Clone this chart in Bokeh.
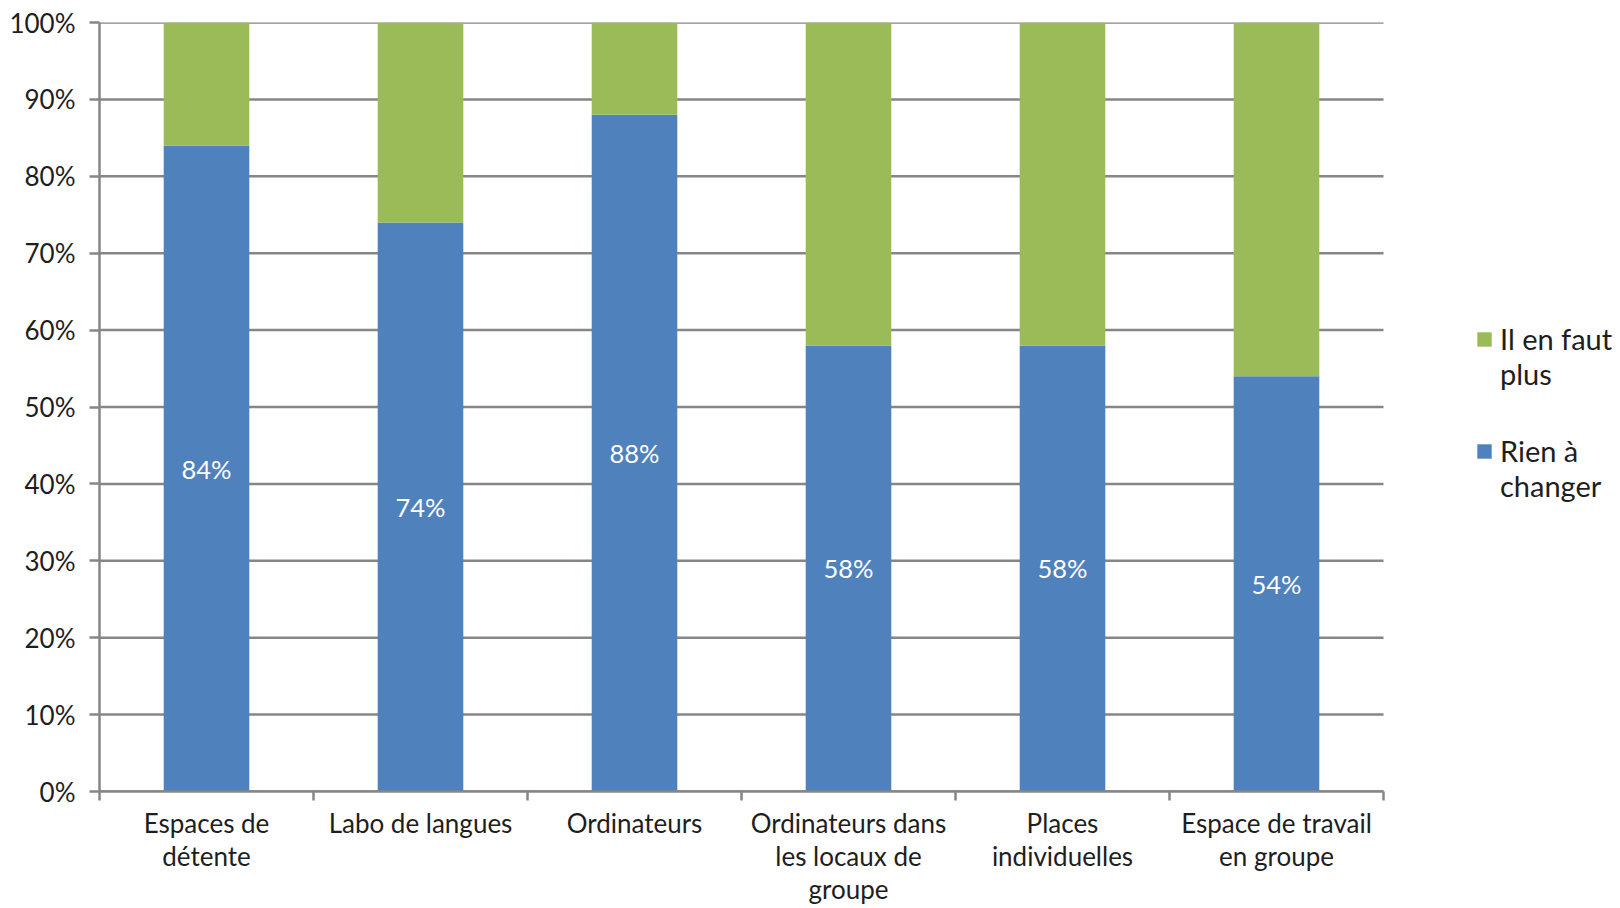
from bokeh.plotting import figure
from bokeh.models import ColumnDataSource, FixedTicker, Legend, LegendItem
from bokeh.core.properties import value
from bokeh.embed import file_html
from bokeh.resources import INLINE

categories = ["Espaces de\ndétente", "Labo de langues", "Ordinateurs",
              "Ordinateurs dans\nles locaux de\ngroupe", "Places\nindividuelles",
              "Espace de travail\nen groupe"]
rien_a_changer = [84, 74, 88, 58, 58, 54]
il_en_faut_plus = [16, 26, 12, 42, 42, 46]
series_labels = ["Rien à\nchanger", "Il en faut\nplus"]
y_ticks = [0, 10, 20, 30, 40, 50, 60, 70, 80, 90, 100]
y_tick_labels = [f"{t}%" for t in y_ticks]

BLUE = "#4F81BD"
GREEN = "#9BBB59"
GRID = "#868686"
TEXT = "#1E1E1E"
FONT = "Lato"

W, H = 1620, 908
LEFT, TOP, BOTTOM = 99, 22, 116
CAT_AREA = 1284  # pixel width occupied by the categories

n = len(categories)
x_end = n * (W - LEFT) / CAT_AREA
xpos = [i + 0.5 for i in range(n)]
src = ColumnDataSource(dict(
    x=xpos,
    rien=rien_a_changer,
    plus=il_en_faut_plus,
    mid=[v / 2 for v in rien_a_changer],
    lab=[f"{v}%" for v in rien_a_changer],
))
grid_src = ColumnDataSource(dict(y=y_ticks, x0=[0] * len(y_ticks), x1=[n] * len(y_ticks)))

p = figure(width=W, height=H, x_range=(0, x_end), y_range=(0, 100),
           output_backend="svg", toolbar_location=None,
           min_border_left=LEFT, min_border_right=0, min_border_top=TOP,
           min_border_bottom=BOTTOM)
p.outline_line_color = None
p.background_fill_color = "white"
p.border_fill_color = "white"
p.xgrid.visible = False
p.ygrid.visible = False

# horizontal gridlines limited to the category area
p.segment(x0="x0", x1="x1", y0="y", y1="y", source=grid_src,
          line_color=GRID, line_width=2.5)

rs = p.vbar_stack(["rien", "plus"], x="x", width=0.4, color=[BLUE, GREEN],
                  line_color=None, source=src)

p.text(x="x", y="mid", text="lab", source=src, text_color="white",
       text_font=value(FONT), text_font_size="25.5px", text_align="center",
       text_baseline="middle")

# y axis
p.yaxis.ticker = FixedTicker(ticks=y_ticks)
p.yaxis.major_label_overrides = {t: l for t, l in zip(y_ticks, y_tick_labels)}
p.yaxis.axis_line_color = GRID
p.yaxis.axis_line_width = 2.5
p.yaxis.major_tick_line_color = GRID
p.yaxis.major_tick_line_width = 2.5
p.yaxis.major_tick_out = 10
p.yaxis.major_tick_in = 0
p.yaxis.minor_tick_line_color = None
p.yaxis.major_label_standoff = 14
p.yaxis.major_label_text_font = FONT
p.yaxis.major_label_text_font_size = "26px"
p.yaxis.major_label_text_color = TEXT

# x axis
p.xaxis.bounds = (0, n)
p.xaxis.ticker = FixedTicker(ticks=xpos, minor_ticks=list(range(n + 1)))
p.xaxis.major_label_overrides = {x: c for x, c in zip(xpos, categories)}
p.xaxis.axis_line_color = GRID
p.xaxis.axis_line_width = 2.5
p.xaxis.major_tick_line_color = None
p.xaxis.major_tick_out = 0
p.xaxis.major_tick_in = 0
p.xaxis.minor_tick_line_color = GRID
p.xaxis.minor_tick_line_width = 2.5
p.xaxis.minor_tick_out = 9
p.xaxis.minor_tick_in = 0
p.xaxis.major_label_standoff = 6
p.xaxis.major_label_text_font = FONT
p.xaxis.major_label_text_font_size = "26px"
p.xaxis.major_label_text_line_height = 1.04
p.xaxis.major_label_text_color = TEXT

# a leading blank line keeps each legend square level with the first text line
legend = Legend(items=[LegendItem(label=" \n" + series_labels[1], renderers=[rs[1]]),
                       LegendItem(label=" \n" + series_labels[0], renderers=[rs[0]])],
                location=(1376, 288), glyph_width=18, glyph_height=18,
                label_text_font=FONT, label_text_font_size="29px",
                label_text_color=TEXT, label_text_line_height=1.18,
                label_standoff=7, spacing=7, padding=0, margin=0,
                border_line_color=None, background_fill_alpha=0)
p.add_layout(legend)

open("out.html", "w").write(file_html(p, INLINE))
